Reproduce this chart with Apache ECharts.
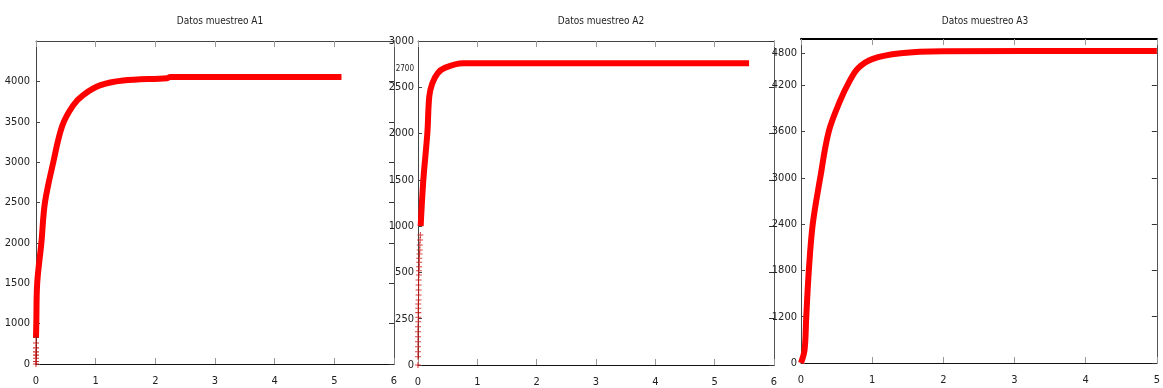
<!DOCTYPE html>
<html>
<head>
<meta charset="utf-8">
<title>Datos muestreo</title>
<script src="https://cdn.jsdelivr.net/npm/echarts@6/dist/echarts.min.js"></script>
<style>
  html, body { margin: 0; padding: 0; background: #fff; }
  #chart { width: 1163px; height: 388px; }
</style>
</head>
<body>
<div id="chart"></div>
<script>
// curva de cada muestra (x, y)
const xA1 = [0, 0.005, 0.02, 0.09, 0.15, 0.29, 0.44, 0.62, 0.79, 1.07, 1.46, 2.2, 2.25, 5.12];
const yA1 = [830, 1000, 1500, 2000, 2500, 3000, 3450, 3700, 3830, 3950, 4010, 4040, 4055, 4055];
const markXA1 = [0, 0, 0, 0, 0, 0, 0, 0];
const markYA1 = [500, 530, 570, 610, 650, 700, 760, 830];

const xA2 = [0.045, 0.09, 0.157, 0.19, 0.24, 0.33, 0.45, 0.76, 5.58];
const yA2 = [1000, 1500, 2000, 2400, 2540, 2650, 2710, 2760, 2760];
const markXA2 = [0, 0, 0, 0, 0, 0, 0, 0, 0.005, 0.005, 0.005, 0.005, 0.005, 0.01, 0.01, 0.01, 0.01, 0.01,
                 0.015, 0.015, 0.02, 0.02, 0.02, 0.025, 0.03, 0.03, 0.035, 0.04];
const markYA2 = [-500, -410, -356, -302, -248, -194, -140, -86, -32, 16, 66, 113, 160, 203, 257, 311, 365, 419,
                 473, 519, 562, 610, 653, 700, 743, 797, 851, 905];

const xA3 = [0, 0.05, 0.074, 0.11, 0.165, 0.27, 0.39, 0.55, 0.68, 0.8, 1.0, 1.4, 2.0, 5.0];
const yA3 = [600, 770, 1200, 1800, 2400, 3000, 3600, 4000, 4250, 4420, 4540, 4615, 4640, 4645];

// ejes
const titles = ["Datos muestreo A1", "Datos muestreo A2", "Datos muestreo A3"];
const xMax = [6, 6, 5];
const yRange = [[500, 4500], [-500, 3000], [600, 4800]];
const yTicksA1 = [500, 1000, 1500, 2000, 2500, 3000, 3500, 4000];
const yLabelsA1 = ["0", "1000", "1500", "2000", "2500", "3000", "3500", "4000"];
const yTicksA2 = [-500, 0, 500, 1000, 1500, 2000, 2500, 2700, 3000];
const yLabelsA2 = ["0", "250", "500", "1000", "1500", "2000", "2500", "2700", "3000"];
const smallLabelsA2 = ["2700"];
const yTicksA3 = [600, 1200, 1800, 2400, 3000, 3600, 4200, 4620];
const yLabelsA3 = ["0", "1200", "1800", "2400", "3000", "3600", "4200", "4800"];

const yTicks = [yTicksA1, yTicksA2, yTicksA3];
const yLabels = [yLabelsA1, yLabelsA2, yLabelsA3];

const grids = [
    { left: 36, top: 41, width: 358, height: 323 },
    { left: 418, top: 41, width: 356, height: 324 },
    { left: 801, top: 39, width: 358, height: 324 }
];

const font = "'Liberation Sans Narrow', 'DejaVu Sans Condensed', 'Liberation Sans', sans-serif";
const plus = "path://M0,3.3h8v1.4h-8z M3.3,0h1.4v8h-1.4z";

function pairs(xs, ys) {
    return xs.map((x, i) => [x, ys[i]]);
}

let chart = echarts.init(document.getElementById("chart"));

let xAxes = [], yAxes = [], series = [];
grids.forEach((g, i) => {
    let ticksNoLabel = yTicks[i].filter(v => !(i === 1 && v === 2700));
    xAxes.push({
        type: "value", gridIndex: i, min: 0, max: xMax[i], interval: 1, position: "bottom",
        axisLine: { onZero: false, lineStyle: { color: "#111", width: 1 } },
        axisTick: { inside: true, length: 6, lineStyle: { color: "#999" } },
        axisLabel: { fontFamily: font, fontSize: 11, color: "#222", margin: 12, showMinLabel: true, showMaxLabel: true },
        splitLine: { show: false }
    });
    xAxes.push({
        type: "value", gridIndex: i, min: 0, max: xMax[i], interval: 1, position: "top",
        axisLine: { onZero: false, lineStyle: { color: i === 2 ? "#000" : "#444", width: i === 2 ? 2 : 1 } },
        axisTick: { inside: true, length: 6, lineStyle: { color: "#999" } },
        axisLabel: { show: false },
        splitLine: { show: false }
    });
    yAxes.push({
        type: "value", gridIndex: i, min: yRange[i][0], max: yRange[i][1], position: "left",
        axisLine: { onZero: false, lineStyle: { color: "#444" } },
        axisTick: { inside: true, length: 4, customValues: ticksNoLabel, lineStyle: { color: "#444" } },
        axisLabel: {
            fontFamily: font, fontSize: 11, color: "#222", margin: i === 0 ? 6 : 4,
            customValues: yTicks[i],
            formatter: function (v) {
                let t = yLabels[i][yTicks[i].indexOf(v)];
                if (t === undefined) return "";
                return smallLabelsA2.includes(t) && i === 1 ? "{s|" + t + "}" : t;
            },
            rich: { s: { fontFamily: font, fontSize: 8, color: "#222" } }
        },
        splitLine: { show: false }
    });
    yAxes.push({
        type: "value", gridIndex: i, min: yRange[i][0], max: yRange[i][1], position: "right",
        axisLine: { onZero: false, lineStyle: { color: "#555" } },
        axisTick: { inside: true, length: 5, customValues: ticksNoLabel, lineStyle: { color: "#333" } },
        axisLabel: { show: false },
        splitLine: { show: false }
    });
});

series.push({
    type: "line", xAxisIndex: 0, yAxisIndex: 0, data: pairs(xA1, yA1),
    smooth: 0.35, showSymbol: false,
    lineStyle: { color: "#ff0000", width: 6 }, z: 3
});
series.push({
    type: "scatter", xAxisIndex: 0, yAxisIndex: 0, data: pairs(markXA1, markYA1),
    symbol: plus, symbolSize: 6, itemStyle: { color: "#c40000" }, z: 4
});
series.push({
    type: "line", xAxisIndex: 2, yAxisIndex: 2, data: pairs(xA2, yA2),
    smooth: 0.35, showSymbol: false,
    lineStyle: { color: "#ff0000", width: 6 }, z: 3
});
series.push({
    type: "scatter", xAxisIndex: 2, yAxisIndex: 2, data: pairs(markXA2, markYA2),
    symbol: plus, symbolSize: 6, itemStyle: { color: "#d01010" }, z: 4
});
series.push({
    type: "line", xAxisIndex: 4, yAxisIndex: 4, data: pairs(xA3, yA3),
    smooth: 0.35, showSymbol: false,
    lineStyle: { color: "#ff0000", width: 6 }, z: 3
});

let option = {
    animation: false,
    backgroundColor: "#fff",
    title: titles.map((t, i) => ({
        text: t,
        left: grids[i].left + grids[i].width / 2,
        top: 11,
        textAlign: "center",
        textStyle: { fontFamily: font, fontSize: 10, fontWeight: "normal", color: "#222" }
    })),
    grid: grids.map(g => Object.assign({ containLabel: false }, g)),
    xAxis: xAxes,
    yAxis: yAxes,
    series: series
};
chart.setOption(option);
</script>
</body>
</html>
